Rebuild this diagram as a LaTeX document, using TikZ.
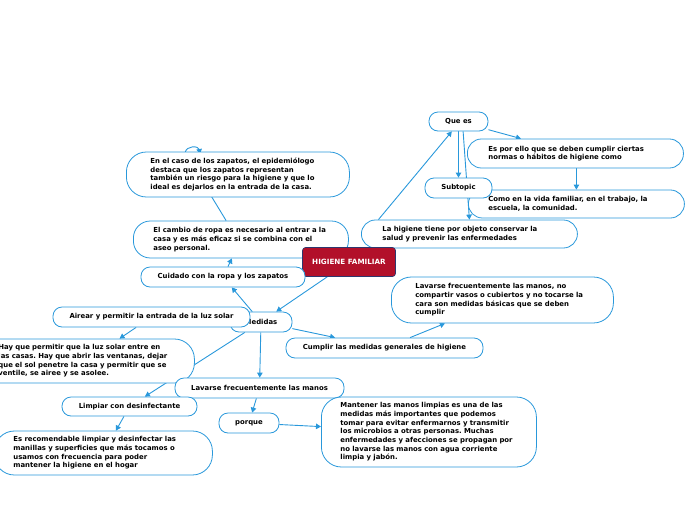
\documentclass[tikz,border=0pt]{standalone}
\usepackage{fontspec}
\newfontfamily\mmfont{DejaVu Sans}
\usetikzlibrary{arrows.meta,backgrounds}
\definecolor{mmblue}{RGB}{41,152,219}
\definecolor{mmred}{RGB}{178,16,42}
\definecolor{mmnavy}{RGB}{45,55,110}
\frenchspacing
\tikzset{
  topic/.style={draw=mmblue, line width=0.8pt, fill=white, rounded corners=9pt,
    font={\mmfont\bfseries\fontsize{6.9}{8.7}\selectfont}, inner sep=0pt, minimum height=20pt},
  note/.style={topic, anchor=west, align=left, rounded corners=14pt},
  link/.style={mmblue, line width=0.9pt, -{Triangle[width=5.5pt,length=5pt]}},
}

\begin{document}
\begin{tikzpicture}[x=1pt,y=-1pt]
  \useasboundingbox (0,0) rectangle (696,520);
  \node[topic, minimum width=59pt, minimum height=19pt] (quees) at (458.5,121.5) {Que es};
  \node[note, text width=174pt, inner xsep=21pt, minimum height=29pt] (esporello) at (467,153.5)
    {Es por ello que se deben cumplir ciertas\\normas o hábitos de higiene como};
  \node[note, text width=176pt, inner xsep=20pt, minimum height=28pt] (comoen) at (468,204)
    {Como en la vida familiar, en el trabajo, la\\escuela, la comunidad.};
  \node[topic, minimum width=67pt] (subtopic) at (458.5,188) {Subtopic};
  \node[note, text width=174pt, inner xsep=21pt, minimum height=28pt] (lahigiene) at (361,234)
    {La higiene tiene por objeto conservar la\\salud y prevenir las enfermedades};
  \node[note, text width=175pt, inner xsep=24pt, minimum height=45pt, rounded corners=20pt] (enelcaso) at (126,174.5)
    {En el caso de los zapatos, el epidemiólogo\\destaca que los zapatos representan\\también un riesgo para la higiene y que lo\\ideal es dejarlos en la entrada de la casa.};
  \node[note, text width=175pt, inner xsep=20pt, minimum height=37pt, rounded corners=17pt] (cambio) at (133,239.5)
    {El cambio de ropa es necesario al entrar a la\\casa y es más eficaz si se combina con el\\aseo personal.};
  \node[fill=mmred, draw=mmnavy, line width=0.6pt, rounded corners=3pt, text=white,
    font={\mmfont\bfseries\fontsize{7.2}{9}\selectfont}, minimum width=93pt, minimum height=29pt]
    (central) at (349,262) {HIGIENE FAMILIAR};
  \node[topic, minimum width=164pt] (cuidado) at (223,277) {Cuidado con la ropa y los zapatos};
  \node[topic, minimum width=62pt] (medidas) at (261,322) {Medidas};
  \node[topic, minimum width=197pt] (airear) at (151.5,317) {Airear y permitir la entrada de la luz solar};
  \node[note, text width=176pt, inner xsep=20pt, minimum height=44pt, rounded corners=20pt] (hayque) at (-22,361)
    {Hay que permitir que la luz solar entre en\\las casas. Hay que abrir las ventanas, dejar\\que el sol penetre la casa y permitir que se\\ventile, se airee y se asolee.};
  \node[topic, minimum width=197pt] (cumplir) at (384.5,348) {Cumplir las medidas generales de higiene};
  \node[note, text width=174pt, inner xsep=24pt, minimum height=46pt, rounded corners=20pt] (lavarseno) at (391,300)
    {Lavarse frecuentemente las manos, no\\compartir vasos o cubiertos y no tocarse la\\cara son medidas básicas que se deben\\cumplir};
  \node[topic, minimum width=169pt] (lavarse) at (259.5,388) {Lavarse frecuentemente las manos};
  \node[topic, minimum width=135pt, minimum height=19pt] (limpiar) at (129.5,406.5) {Limpiar con desinfectante};
  \node[note, text width=180pt, inner xsep=19pt, minimum height=44pt, rounded corners=20pt] (esrecom) at (-6,453)
    {Es recomendable limpiar y desinfectar las\\manillas y superficies que más tocamos o\\usamos con frecuencia para poder\\mantener la higiene en el hogar};
  \node[topic, minimum width=60pt] (porque) at (249,423) {porque};
  \node[note, text width=177pt, inner xsep=19pt, minimum height=70pt, rounded corners=20pt] (mantener) at (321,432)
    {Mantener las manos limpias es una de las\\medidas más importantes que podemos\\tomar para evitar enfermarnos y transmitir\\los microbios a otras personas. Muchas\\enfermedades y afecciones se propagan por\\no lavarse las manos con agua corriente\\limpia y jabón.};
  \coordinate (hookend) at (200,154);
  \begin{scope}[on background layer]
    \draw[link] (central) -- (medidas);
    \draw[link] (medidas) -- (cuidado);
    \draw[link] (cuidado) -- (cambio);
    \draw[link] (cambio.128) -- (185,153) to[out=80,in=100,looseness=1.4] (hookend);
    \draw[link] (airear) -- (hayque);
    \draw[link] (medidas) -- (limpiar);
    \draw[link] (medidas) -- (lavarse);
    \draw[link] (medidas) -- (cumplir);
    \draw[link] (cumplir) -- (lavarseno);
    \draw[link] (lavarse) -- (porque);
    \draw[link] (porque) -- (mantener);
    \draw[link] (limpiar) -- (esrecom);
    \draw[link] (lahigiene.171) -- (quees.236);
    \draw[link] (quees.-65) -- (lahigiene.north);
    \draw[link] (quees.south) -- (subtopic.north);
    \draw[link] (quees) -- (esporello);
    \draw[link] (esporello.south -| comoen.north) -- (comoen.north);
  \end{scope}
\end{tikzpicture}
\end{document}
